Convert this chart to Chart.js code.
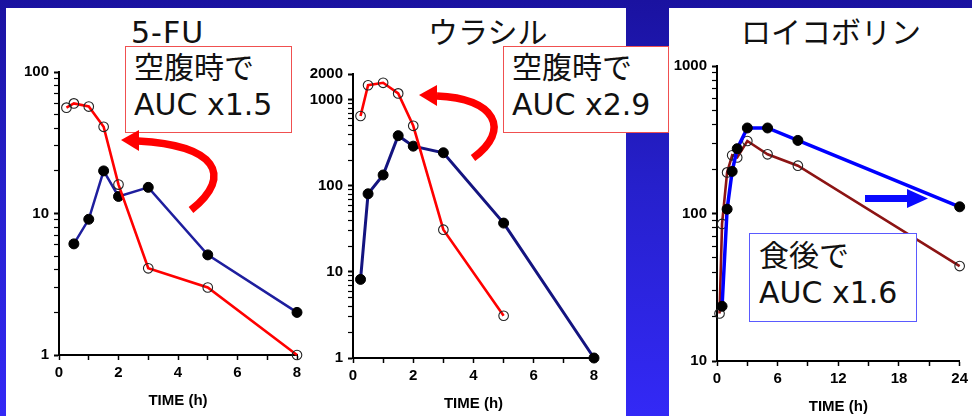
<!DOCTYPE html>
<html>
<head>
<meta charset="utf-8">
<script src="https://cdn.jsdelivr.net/npm/chart.js@4/dist/chart.umd.min.js"></script>
<style>
html,body{margin:0;padding:0}
body{width:972px;height:416px;overflow:hidden;position:relative;
  background:linear-gradient(to bottom,#1a12a0 0%,#2620cc 45%,#3329f6 100%);
  font-family:"DejaVu Sans","Noto Sans CJK JP",sans-serif}
.panel{position:absolute;background:#fff}
.plot{position:absolute}
.title{position:absolute;font-size:30px;line-height:30px;color:#111;white-space:nowrap;z-index:2}
.note{position:absolute;background:#fff;box-sizing:border-box;z-index:2}
.note div{position:absolute;font-size:30px;line-height:37px;color:#111;white-space:nowrap}
svg{position:absolute;left:0;top:0;z-index:3}
</style>
</head>
<body>
<div class="panel" style="left:6px;top:8px;width:620px;height:408px"></div>
<div class="panel" style="left:669px;top:8px;width:303px;height:408px"></div>

<div class="plot" style="left:14px;top:58px;width:295px;height:352px"><canvas id="cFU" width="295" height="352"></canvas></div>
<div class="plot" style="left:308px;top:60px;width:298px;height:353px"><canvas id="cURA" width="298" height="353"></canvas></div>
<div class="plot" style="left:672px;top:52px;width:300px;height:364px"><canvas id="cLV" width="300" height="364"></canvas></div>

<div class="title" style="left:131px;top:18px;letter-spacing:1px">5-FU</div>
<div class="title" style="left:428px;top:18px">ウラシル</div>
<div class="title" style="left:741px;top:18px">ロイコボリン</div>

<div class="note" style="left:125px;top:46px;width:167px;height:87px;border:1.5px solid #f05050">
  <div style="left:8px;top:2px">空腹時で<br>AUC x1.5</div>
</div>
<div class="note" style="left:503px;top:46px;width:166px;height:87px;border:1.5px solid #f05050">
  <div style="left:8px;top:2px">空腹時で<br>AUC x2.9</div>
</div>
<div class="note" style="left:749px;top:233px;width:168px;height:89px;border:1.5px solid #5a5aff">
  <div style="left:9px;top:3px">食後で<br>AUC x1.6</div>
</div>

<svg width="972" height="416" viewBox="0 0 972 416">
  <!-- curved arrows pointing at the fasting curves -->
  <path d="M191 210 C235 175 215 145 138 141" fill="none" stroke="#ff0000" stroke-width="7.5"/>
  <polygon points="139,130 121,140 139,151" fill="#ff0000"/>
  <path d="M473 158 C512 130 495 98 437 96" fill="none" stroke="#ff0000" stroke-width="7.5"/>
  <polygon points="437,85 419,95 437,106" fill="#ff0000"/>
  <!-- straight arrow pointing at the fed curve -->
  <rect x="865" y="195" width="44" height="7" fill="#0a0aff"/>
  <polygon points="907,189 928,198.5 907,208" fill="#0a0aff"/>
</svg>

<script>
// 5-FU plasma concentration vs time (h)
const fuFastTime = [0.25, 0.5, 1, 1.5, 2, 3, 5, 8];
const fuFastConc = [56, 60, 57, 41, 16, 4.1, 3.0, 1.0];
const fuFedTime  = [0.5, 1, 1.5, 2, 3, 5, 8];
const fuFedConc  = [6.1, 9.1, 20, 13.2, 15.3, 5.1, 2.0];

// uracil
const uraFastTime = [0.25, 0.5, 1, 1.5, 2, 3, 5];
const uraFastConc = [650, 1480, 1580, 1190, 500, 31, 3.1];
const uraFedTime  = [0.25, 0.5, 1, 1.5, 2, 3, 5, 8];
const uraFedConc  = [8.2, 81, 134, 384, 290, 243, 37, 1.0];

// leucovorin
const lvFastTime = [0.25, 0.5, 1, 1.5, 2, 3, 5, 8, 24];
const lvFastConc = [21, 85, 190, 248, 240, 310, 252, 211, 44];
const lvFedTime  = [0.5, 1, 1.5, 2, 3, 5, 8, 24];
const lvFedConc  = [23.5, 107, 193, 275, 380, 380, 313, 111];

// labelled ticks
const fuYLabels  = [1, 10, 100];
const uraYLabels = [1, 10, 100, 1000, 2000];
const lvYLabels  = [10, 100, 1000];
const xLabels8   = [0, 2, 4, 6, 8];
const xLabels24  = [0, 6, 12, 18, 24];
const xTitle = 'TIME (h)';

const tickFont = {family: '"Liberation Sans", Arial, sans-serif', weight: 'bold', size: 15};

function pts(t, c) { return t.map((x, i) => ({x: x, y: c[i]})); }

// 1-9 per decade between min and max, for the log-axis tick marks
function logTicks(min, max) {
  const out = [];
  for (let d = min; d < max; d *= 10) {
    for (let m = 1; m < 10; m++) { const v = m * d; if (v <= max + 1e-9) out.push(v); }
  }
  if (!out.includes(max)) out.push(max);
  return out;
}

function fastSet(t, c, color, width) {
  return {label: '空腹時', data: pts(t, c), borderColor: color, borderWidth: width,
    pointRadius: 4.8, pointBackgroundColor: 'rgba(255,255,255,0)', pointBorderColor: '#222',
    pointBorderWidth: 1.1, tension: 0, clip: false};
}
function fedSet(t, c, color, width) {
  return {label: '食後', data: pts(t, c), borderColor: color, borderWidth: width,
    pointRadius: 5, pointBackgroundColor: '#000', pointBorderColor: '#000',
    pointBorderWidth: 1, tension: 0, clip: false};
}

function makeChart(id, datasets, xMax, xStep, xLabels, yMin, yMax, yLabels, padRight) {
  const yTicks = logTicks(yMin, yMax);
  return new Chart(document.getElementById(id), {
    type: 'line',
    data: {datasets: datasets},
    options: {
      responsive: false, animation: false, devicePixelRatio: 1,
      layout: {padding: {top: 10, right: padRight, left: 0, bottom: 0}},
      plugins: {legend: {display: false}, tooltip: {enabled: false}},
      scales: {
        x: {
          type: 'linear', min: 0, max: xMax,
          border: {color: '#000', width: 2},
          grid: {drawOnChartArea: false, drawTicks: true, tickLength: 5, color: '#000', tickWidth: 1.5},
          ticks: {stepSize: xStep, autoSkip: false, maxRotation: 0, padding: 4, color: '#000', font: tickFont,
            callback: v => xLabels.includes(v) ? String(v) : ''},
          title: {display: true, text: xTitle, color: '#000', font: tickFont, padding: {top: 0, bottom: 0}},
          afterFit: s => { s.height = 55; }
        },
        y: {
          type: 'logarithmic', min: yMin, max: yMax,
          border: {color: '#000', width: 2},
          grid: {drawOnChartArea: false, drawTicks: true, tickLength: 5, color: '#000',
            tickWidth: ctx => (ctx.tick && yLabels.includes(ctx.tick.value)) ? 2 : 1.2},
          afterBuildTicks: s => { s.ticks = yTicks.map(v => ({value: v})); },
          ticks: {autoSkip: false, padding: 5, color: '#000', font: tickFont,
            callback: v => yLabels.includes(v) ? String(v) : ''},
          afterFit: s => { s.width = 45; }
        }
      }
    }
  });
}

const redFast = fastSet(fuFastTime, fuFastConc, '#ff0000', 2.6); redFast.order = 0;
const blueFed = fedSet(fuFedTime, fuFedConc, '#1e1e9e', 2.5); blueFed.order = 1;
makeChart('cFU', [redFast, blueFed], 8, 1, xLabels8, 1, 100, fuYLabels, 12);

const uraRed = fastSet(uraFastTime, uraFastConc, '#ff0000', 2.6); uraRed.order = 0;
const uraBlue = fedSet(uraFedTime, uraFedConc, '#141480', 3); uraBlue.order = 1;
makeChart('cURA', [uraRed, uraBlue], 8, 1, xLabels8, 1, 2000, uraYLabels, 12);

const lvBlue = fedSet(lvFedTime, lvFedConc, '#0000ff', 3.5); lvBlue.order = 0;
const lvRed = fastSet(lvFastTime, lvFastConc, '#8c1414', 2.6); lvRed.order = 1;
makeChart('cLV', [lvBlue, lvRed], 24, 3, xLabels24, 10, 1000, lvYLabels, 10);
</script>
</body>
</html>
